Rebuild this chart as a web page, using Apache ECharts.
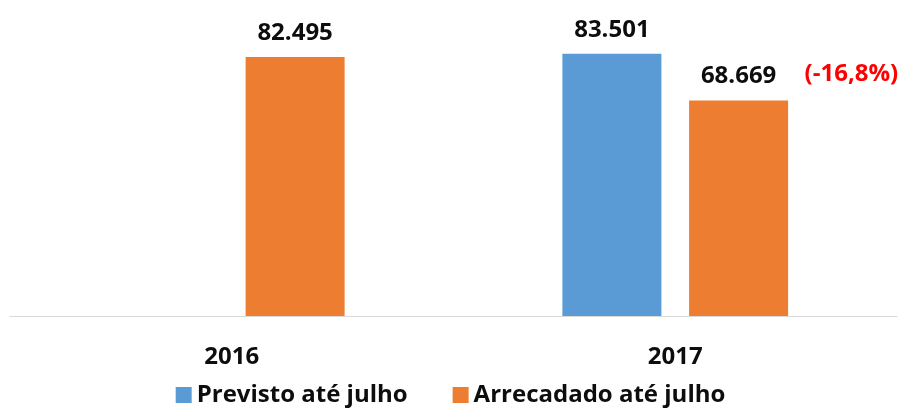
<!DOCTYPE html>
<html>
<head>
<meta charset="utf-8">
<script src="https://cdn.jsdelivr.net/npm/echarts@6/dist/echarts.min.js"></script>
<style>
  html, body { margin: 0; padding: 0; background: #fff; }
  #chart { width: 901px; height: 409px; }
</style>
</head>
<body>
<div id="chart"></div>
<script>
// dados do gráfico
const anos = ['2016', '2017']
const previsto = [null, 83501]
const arrecadado = [82495, 68669]
const variacao = '(-16,8%)'
const nomes = ['Previsto até julho', 'Arrecadado até julho']

const FONT = '"Open Sans", "Liberation Sans", sans-serif'

const formatarValor = (v) => {
    if (v == null) return ''
    return v.toLocaleString('de-DE')
}

const chart = echarts.init(document.getElementById('chart'))

const labelTopo = {
    show: true,
    position: 'top',
    distance: 12,
    color: '#0d0d0d',
    fontFamily: FONT,
    fontWeight: 'bold',
    fontSize: 24,
    formatter: (p) => formatarValor(p.value)
}

chart.setOption({
    animation: false,
    grid: {
        left: 10,
        right: 4,
        top: 2,
        bottom: 93
    },
    legend: {
        data: nomes,
        left: 'center',
        top: 378,
        icon: 'rect',
        itemWidth: 16,
        itemHeight: 16,
        itemGap: 45,
        textStyle: {
            color: '#0d0d0d',
            fontFamily: FONT,
            fontWeight: 'bold',
            fontSize: 24
        }
    },
    xAxis: {
        type: 'category',
        data: anos,
        axisLine: { lineStyle: { color: '#d9d9d9', width: 1 } },
        axisTick: { show: false },
        axisLabel: {
            margin: 29,
            color: '#0d0d0d',
            fontFamily: FONT,
            fontWeight: 'bold',
            fontSize: 24
        }
    },
    yAxis: {
        type: 'value',
        min: 0,
        max: 100000,
        show: false,
        splitLine: { show: false }
    },
    series: [
        {
            name: nomes[0],
            type: 'bar',
            data: previsto,
            barWidth: 99,
            barGap: '28%',
            itemStyle: { color: '#5b9bd5' },
            label: labelTopo
        },
        {
            name: nomes[1],
            type: 'bar',
            data: arrecadado,
            barWidth: 99,
            barGap: '28%',
            itemStyle: { color: '#ed7d31' },
            label: labelTopo,
            markPoint: {
                symbol: 'rect',
                symbolSize: 0,
                data: [{
                    coord: [anos[1], arrecadado[1]],
                    label: {
                        show: true,
                        position: 'inside',
                        formatter: variacao,
                        color: '#ff0000',
                        fontFamily: FONT,
                        fontWeight: 'bold',
                        fontSize: 24,
                        align: 'left',
                        offset: [66, -26]
                    }
                }]
            }
        }
    ]
})
</script>
</body>
</html>
